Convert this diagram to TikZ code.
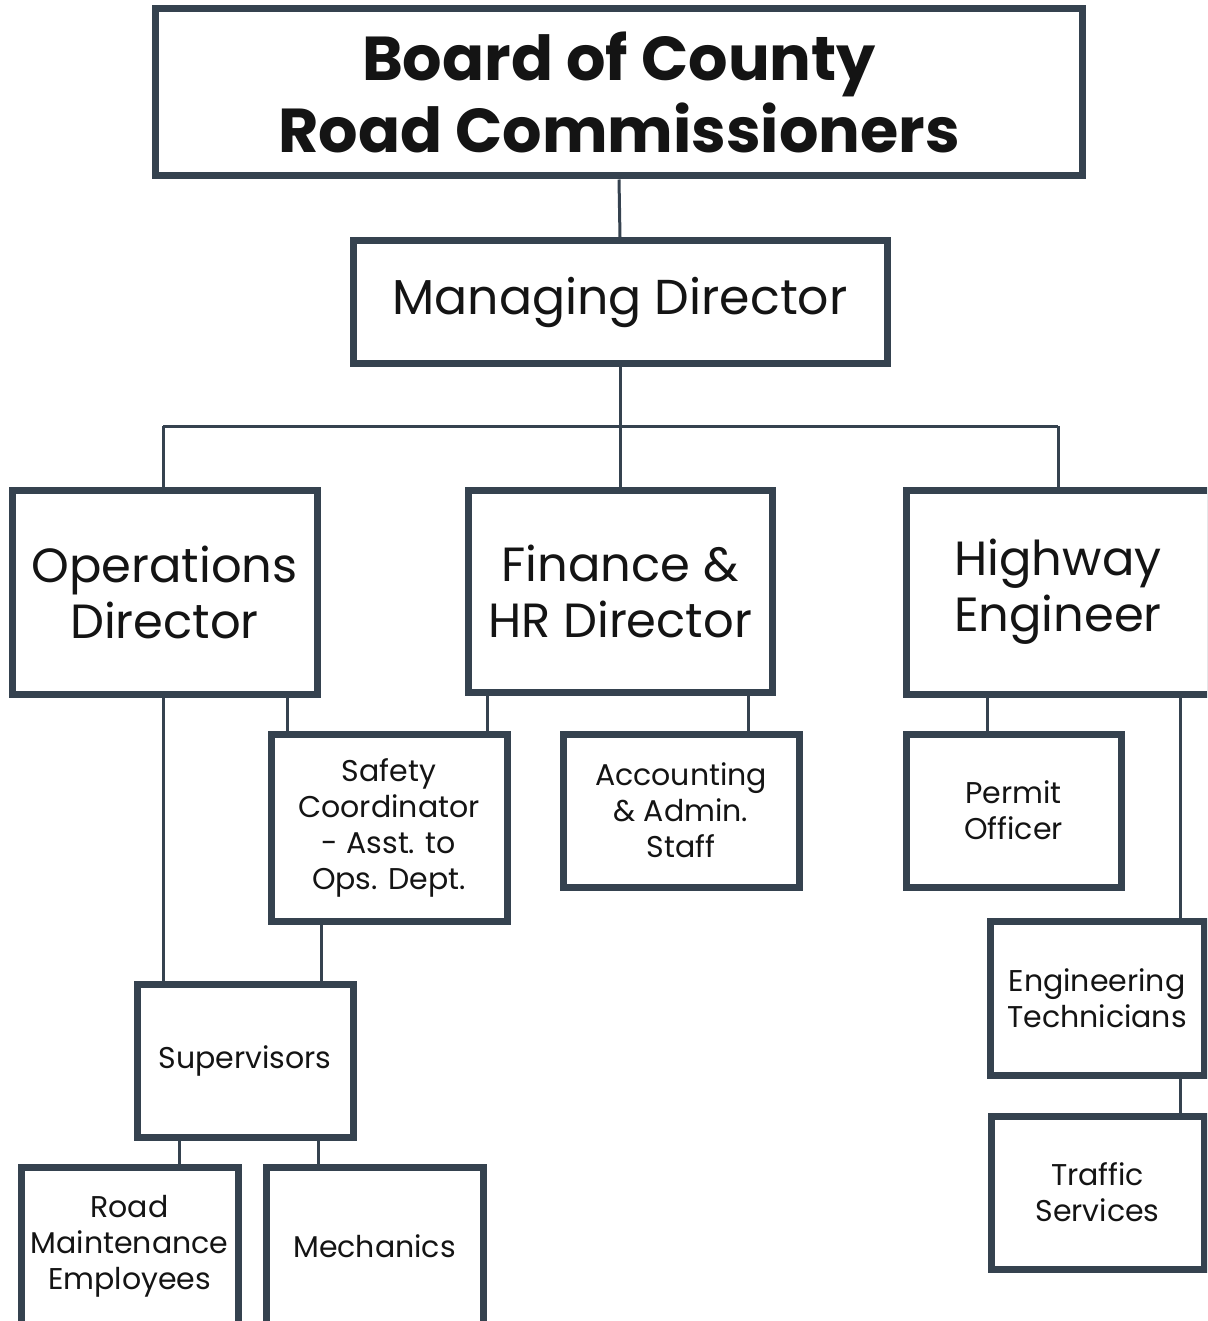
\documentclass[tikz,border=0pt]{standalone}
\usepackage{fontspec}
\setmainfont{Poppins}
\definecolor{boxc}{HTML}{35424F}
\begin{document}
\begin{tikzpicture}[x=1pt,y=-1pt,
  box/.style={draw=boxc,line width=7pt,fill=white,rectangle,align=center,inner sep=0pt,text=black!92},
  big/.style={font=\fontsize{48}{56}\selectfont},
  small/.style={font=\fontsize{30}{36}\selectfont},
  conn/.style={draw=boxc,line width=3pt}]
\useasboundingbox (0,0) rectangle (1207,1321);
\clip (0,0) rectangle (1207,1321);
\coordinate (bus) at (620,426);
\coordinate (busL) at (163,426);
\coordinate (busR) at (1058,426);
\node[box,minimum width=927.5pt,minimum height=167pt,font=\fontsize{62}{72}\selectfont\bfseries] (board) at (619,92.5) {Board of County\\Road Commissioners};
\node[box,minimum width=534pt,minimum height=122pt,font=\fontsize{49}{56}\selectfont] (md) at (620,302) {\raisebox{-4pt}{Managing Director}};
\node[box,big,minimum width=305pt,minimum height=204pt] (ops) at (164.5,592) {Operations\\Director};
\node[box,big,minimum width=304pt,minimum height=202pt] (fin) at (620,591) {Finance \&\\HR Director};
\node[box,big,minimum width=304pt,minimum height=204pt] (hwy) at (1058,592) {Highway\\Engineer};
\node[box,small,minimum width=236pt,minimum height=187pt] (safety) at (389,827.5) {Safety\\Coordinator\\- Asst. to\\Ops. Dept.};
\node[box,small,minimum width=236pt,minimum height=153pt] (acct) at (681,810.5) {Accounting\\\& Admin.\\Staff};
\node[box,small,minimum width=215pt,minimum height=153pt] (permit) at (1013.5,810.5) {Permit\\Officer};
\node[box,small,minimum width=214pt,minimum height=154pt] (engt) at (1097,998) {Engineering\\Technicians};
\node[box,small,minimum width=213pt,minimum height=153pt] (traffic) at (1097.5,1192.5) {Traffic\\Services};
\node[box,small,minimum width=216pt,minimum height=153pt] (sup) at (245,1060.5) {Supervisors};
\node[box,small,minimum width=217pt,minimum height=158pt] (road) at (129.5,1246) {Road\\Maintenance\\Employees};
\node[box,small,minimum width=217pt,minimum height=158pt] (mech) at (374.5,1246) {Mechanics};
\path[conn] (board.south) -- (md.north);
\path[conn] (md.south) -- (bus);
\path[conn] (busL) -- (busR);
\path[conn] (busL) -- (ops.north -| busL);
\path[conn] (bus) -- (fin.north);
\path[conn] (busR) -- (hwy.north);
\path[conn] (ops.south -| 163,0) -- (sup.north -| 163,0);
\path[conn] (ops.south -| 287,0) -- (safety.north -| 287,0);
\path[conn] (fin.south -| 487,0) -- (safety.north -| 487,0);
\path[conn] (fin.south -| 748,0) -- (acct.north -| 748,0);
\path[conn] (hwy.south -| 987,0) -- (permit.north -| 987,0);
\path[conn] (hwy.south -| 1180,0) -- (engt.north -| 1180,0);
\path[conn] (engt.south -| 1180,0) -- (traffic.north -| 1180,0);
\path[conn] (safety.south -| 321,0) -- (sup.north -| 321,0);
\path[conn] (sup.south -| 179,0) -- (road.north -| 179,0);
\path[conn] (sup.south -| 318,0) -- (mech.north -| 318,0);
\end{tikzpicture}
\end{document}
